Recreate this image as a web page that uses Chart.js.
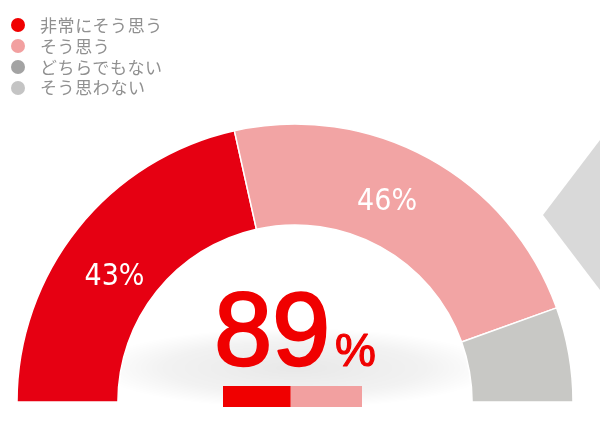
<!DOCTYPE html>
<html lang="ja">
<head>
<meta charset="utf-8">
<script src="https://cdn.jsdelivr.net/npm/chart.js@4.4.1/dist/chart.umd.min.js"></script>
<style>
    html, body { margin: 0; padding: 0; background: #fff; }
    #wrap { position: relative; width: 600px; height: 436px; overflow: hidden; }
    #gauge { position: absolute; left: 0; top: 0; }
    #miniBar { position: absolute; left: 223px; top: 386px; }
    #legend {
        position: absolute; left: 11px; top: 15px; margin: 0; padding: 0; list-style: none;
        font-family: "Noto Sans CJK JP", sans-serif; font-size: 17px; color: #909090;
        letter-spacing: 0.6px;
    }
    #legend li { height: 20.8px; line-height: 20.8px; display: flex; align-items: center; }
    #legend .dot { width: 14px; height: 14px; border-radius: 50%; margin-right: 15px; }
</style>
</head>
<body>
<div id="wrap">
    <canvas id="gauge" width="600" height="436"></canvas>
    <canvas id="miniBar" width="139" height="21"></canvas>
    <ul id="legend"></ul>
</div>
<script>
// survey answers (percent)
const answerLabels = ["非常にそう思う", "そう思う", "どちらでもない", "そう思わない"];
const answerValues = [43, 46, 11, 0];
const arcColors = ["#e60012", "#f2a4a4", "#c8c8c5", "#c8c8c5"];
const legendColors = ["#f00000", "#f2a0a0", "#a3a3a3", "#c4c4c4"];

// "agree" total shown in the middle
const agreeValues = answerValues.slice(0, 2);
const agreeTotal = agreeValues.reduce((a, b) => a + b, 0);

// legend as html list
const legendEl = document.getElementById("legend");
answerLabels.forEach((label, i) => {
    const li = document.createElement("li");
    li.innerHTML = `<span class="dot" style="background:${legendColors[i]}"></span>${label}`;
    legendEl.appendChild(li);
});

// soft shadow + the grey arrow on the right edge
const decoPlugin = {
    id: "deco",
    beforeDatasetsDraw(chart) {
        const ctx = chart.ctx;
        const arc = chart.getDatasetMeta(0).data[0];
        const cx = arc.x, cy = arc.y;

        ctx.save();
        ctx.translate(cx, cy - 34);
        ctx.scale(1, 0.2);
        const g = ctx.createRadialGradient(0, 0, 0, 0, 0, 200);
        g.addColorStop(0, "rgba(0,0,0,0.09)");
        g.addColorStop(0.65, "rgba(0,0,0,0.05)");
        g.addColorStop(1, "rgba(0,0,0,0)");
        ctx.fillStyle = g;
        ctx.fillRect(-200, -200, 400, 400);
        ctx.restore();

        ctx.save();
        ctx.fillStyle = "#d9d9d9";
        ctx.beginPath();
        ctx.moveTo(543, 215);
        ctx.lineTo(600, 140);
        ctx.lineTo(600, 290);
        ctx.closePath();
        ctx.fill();
        ctx.restore();
    }
};

// percent labels on the big slices and the total in the centre
const labelPlugin = {
    id: "arcLabels",
    afterDatasetsDraw(chart) {
        const ctx = chart.ctx;
        const meta = chart.getDatasetMeta(0);
        ctx.save();
        ctx.textAlign = "center";
        ctx.textBaseline = "middle";
        ctx.fillStyle = "#fff";
        ctx.font = '30px "DejaVu Sans Condensed", sans-serif';
        meta.data.forEach((el, i) => {
            const v = answerValues[i];
            if (v < 20) return;
            const p = el.getProps(["x", "y", "startAngle", "endAngle", "innerRadius", "outerRadius"], true);
            const mid = (p.startAngle + p.endAngle) / 2 - 0.07;
            const r = (p.innerRadius + p.outerRadius) / 2 - 8;
            ctx.fillText(v + "%", p.x + Math.cos(mid) * r, p.y + Math.sin(mid) * r);
        });

        const c = meta.data[0];
        ctx.fillStyle = "#f00000";
        ctx.strokeStyle = "#f00000";
        ctx.lineJoin = "round";
        ctx.textBaseline = "alphabetic";
        ctx.textAlign = "right";
        ctx.font = '104px "Liberation Sans", sans-serif';
        ctx.lineWidth = 2.5;
        ctx.fillText(String(agreeTotal), c.x + 35, c.y - 37);
        ctx.strokeText(String(agreeTotal), c.x + 35, c.y - 37);
        ctx.textAlign = "left";
        ctx.font = '46px "Liberation Sans", sans-serif';
        ctx.lineWidth = 1.2;
        ctx.fillText("%", c.x + 40, c.y - 36);
        ctx.strokeText("%", c.x + 40, c.y - 36);
        ctx.restore();
    }
};

new Chart(document.getElementById("gauge"), {
    type: "doughnut",
    data: {
        labels: answerLabels,
        datasets: [{
            data: answerValues,
            backgroundColor: arcColors,
            borderColor: "#fff",
            borderWidth: 1.5
        }]
    },
    options: {
        responsive: false,
        animation: false,
        rotation: -90,
        circumference: 180,
        radius: 278,
        cutout: "63.7%",
        layout: { padding: { left: 17, right: 27, top: 124, bottom: 34 } },
        plugins: { legend: { display: false }, tooltip: { enabled: false } }
    },
    plugins: [decoPlugin, labelPlugin]
});

// little stacked bar under the total
new Chart(document.getElementById("miniBar"), {
    type: "bar",
    data: {
        labels: [""],
        datasets: agreeValues.map((v, i) => ({
            label: answerLabels[i],
            data: [v],
            backgroundColor: legendColors[i],
            borderWidth: 0,
            barPercentage: 1,
            categoryPercentage: 1
        }))
    },
    options: {
        indexAxis: "y",
        responsive: false,
        animation: false,
        layout: { padding: 0 },
        scales: {
            x: { stacked: true, display: false, min: 0, max: agreeTotal },
            y: { stacked: true, display: false }
        },
        plugins: { legend: { display: false }, tooltip: { enabled: false } }
    }
});
</script>
</body>
</html>
